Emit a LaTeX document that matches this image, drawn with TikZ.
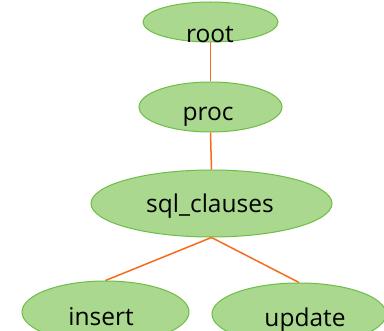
\documentclass[tikz,border=0pt]{standalone}
\usepackage{fontspec}
\setmainfont{Open Sans}
\usetikzlibrary{shapes.geometric}
\definecolor{nodefill}{HTML}{A9D88E}
\definecolor{nodeedge}{HTML}{6DBE45}
\definecolor{linkc}{HTML}{F86A1C}
\tikzset{
  treenode/.style={ellipse, draw=nodeedge, fill=nodefill, line width=1pt, inner sep=0pt},
  link/.style={draw=linkc, line width=1.5pt},
  lbl/.style={font=\fontsize{24.5}{28}\selectfont, text=black, inner sep=0pt}
}
\begin{document}
\begin{tikzpicture}[x=1pt, y=-1pt]
  \useasboundingbox (0,0) rectangle (384,331);
  \clip (0,0) rectangle (384,331);
  \fill[white] (0,0) rectangle (384,331);
  \node[treenode, minimum width=135pt, minimum height=40pt] (root) at (210.5,22) {};
  \node[treenode, minimum width=143pt, minimum height=50pt] (proc) at (210.5,107) {};
  \node[treenode, minimum width=241pt, minimum height=67pt] (sql) at (211.5,203.5) {};
  \node[treenode, minimum width=167pt, minimum height=62pt] (insert) at (105.5,312) {};
  \node[treenode, minimum width=174pt, minimum height=62pt] (update) at (299,314) {};
  \draw[link] (root.south) -- (proc.north);
  \draw[link] (proc.south) -- (sql.north);
  \draw[link] (sql.south) -- (insert.north);
  \draw[link] (sql.south) -- (update.north);
  \node[lbl] (troot) at (210,34.5) {root};
  \node[lbl] (tproc) at (208,117) {proc};
  \node[lbl] (tsql) at (210,206) {sql\_clauses};
  \node[lbl] (tinsert) at (101,317) {insert};
  \node[lbl] (tupdate) at (305,320.5) {update};
\end{tikzpicture}
\end{document}
